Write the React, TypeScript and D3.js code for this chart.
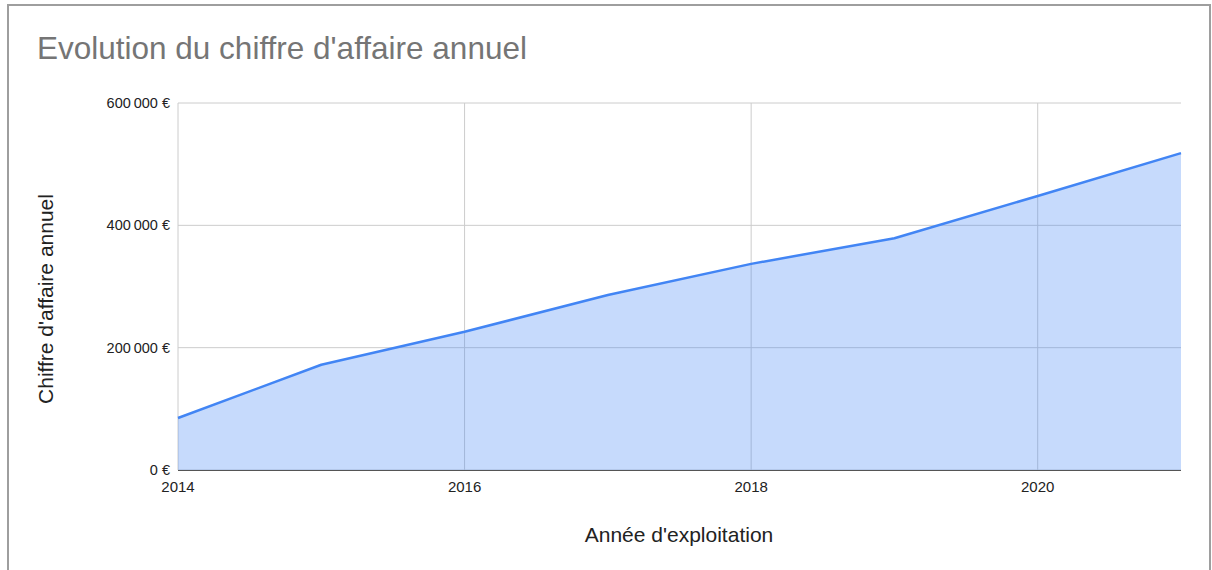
import React from 'react';
import * as d3 from 'd3';

// chiffre d'affaire par année
const years = [2014, 2015, 2016, 2017, 2018, 2019, 2020, 2021];
const revenue = [85000, 172000, 226000, 286000, 337000, 379000, 448000, 518000];
const yTicks = [0, 200000, 400000, 600000];
const xTicks = [2014, 2016, 2018, 2020];

const W = 1212;
const H = 570;
const margin = { left: 178, right: 31, top: 103, bottom: 100 };

const fmtEuro = (v: number) => {
  const s = d3.format(',')(v).replace(/,/g, '\u202f');
  return `${s}\u00a0€`;
};

const App = () => {
  const x = d3.scaleLinear().domain([2014, 2021]).range([margin.left, W - margin.right]);
  const y = d3.scaleLinear().domain([0, 600000]).range([H - margin.bottom, margin.top]);

  const pts = years.map((yr, i) => [yr, revenue[i]] as [number, number]);
  const area = d3.area<[number, number]>()
    .x(d => x(d[0]))
    .y0(y(0))
    .y1(d => y(d[1]));
  const line = d3.line<[number, number]>()
    .x(d => x(d[0]))
    .y(d => y(d[1]));

  const font = '"Liberation Sans", Arial, sans-serif';

  return (
    <svg width={W} height={H} style={{ position: 'absolute', left: 0, top: 0, background: '#fff' }} fontFamily={font}>
      {/* cadre */}
      <rect x={8} y={5} width={1202} height={600} fill="none" stroke="#9e9e9e" strokeWidth={2} />

      <text x={37} y={59} fontSize={31.5} fill="#757575">Evolution du chiffre d'affaire annuel</text>

      {/* grille */}
      {yTicks.map(t => (
        <line key={'gy' + t} x1={x(2014)} x2={x(2021)} y1={y(t)} y2={y(t)} stroke="#cccccc" strokeWidth={1} />
      ))}
      <line x1={x(2014)} x2={x(2014)} y1={y(600000)} y2={y(0)} stroke="#cccccc" />
      {xTicks.slice(1).map(t => (
        <line key={'gx' + t} x1={x(t)} x2={x(t)} y1={y(600000)} y2={y(0)} stroke="#cccccc" strokeWidth={1} />
      ))}

      <path d={area(pts) || ''} fill="#4285f4" fillOpacity={0.3} />
      <path d={line(pts) || ''} fill="none" stroke="#4285f4" strokeWidth={2.5} strokeLinejoin="round" />

      <line x1={x(2014)} x2={x(2021)} y1={y(0) + 0.5} y2={y(0) + 0.5} stroke="#555" strokeWidth={1.2} />

      {yTicks.map(t => (
        <text key={'ty' + t} x={170} y={y(t) + 5} fontSize={14.5} textAnchor="end" fill="#222">{fmtEuro(t)}</text>
      ))}
      {xTicks.map(t => (
        <text key={'tx' + t} x={x(t)} y={492} fontSize={15} textAnchor="middle" fill="#222">{t}</text>
      ))}

      <text x={679} y={542} fontSize={21} textAnchor="middle" fill="#222">Année d'exploitation</text>
      <text transform={`translate(53,299) rotate(-90)`} fontSize={21} textAnchor="middle" fill="#222">Chiffre d'affaire annuel</text>
    </svg>
  );
};

export default App;
